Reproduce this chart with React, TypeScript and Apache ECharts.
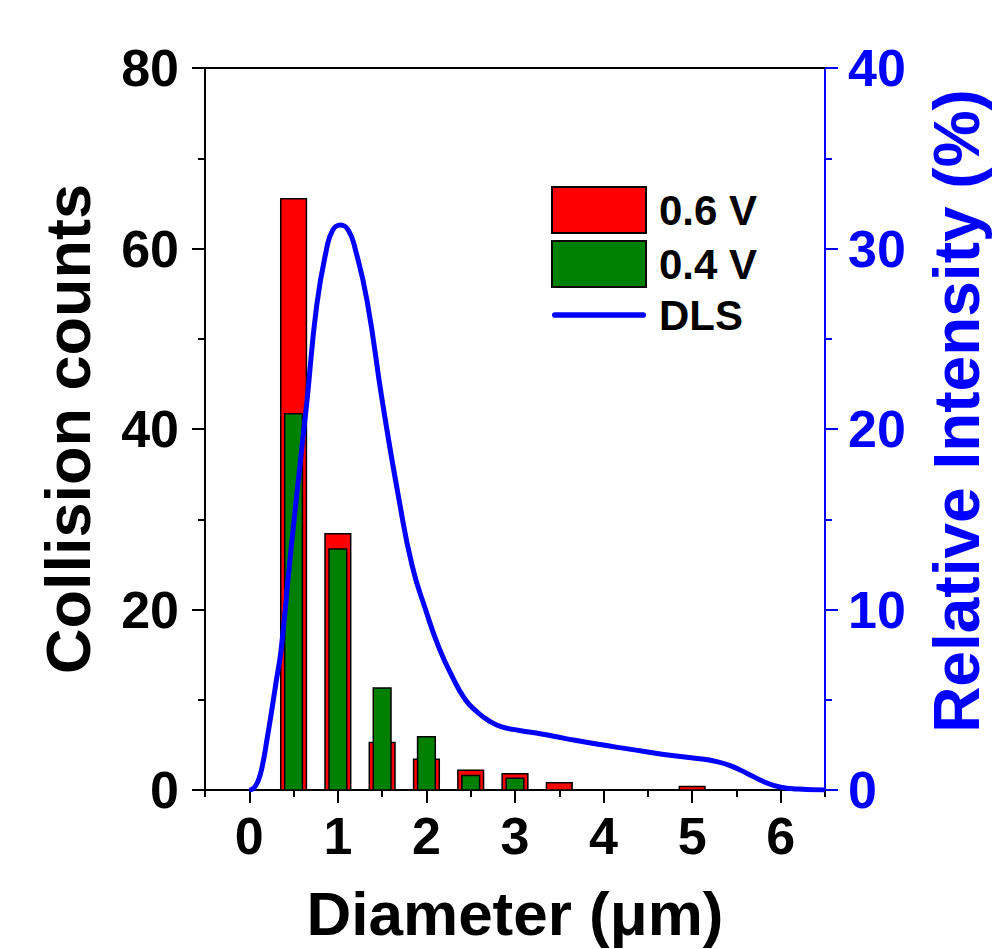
import React, { useEffect, useRef } from "react";
import * as echarts from "echarts";

const diameters = [0.5, 1, 1.5, 2, 2.5, 3, 3.5, 4, 4.5, 5];
const counts06V = [65.5, 28.4, 5.25, 3.4, 2.2, 1.8, 0.8, 0, 0, 0.4];
const counts04V = [41.7, 26.7, 11.3, 5.9, 1.6, 1.3, 0, 0, 0, 0];

const dlsX = [0, 0.05, 0.1, 0.15, 0.2, 0.25, 0.3, 0.36, 0.45, 0.55, 0.65, 0.76, 0.87, 0.94, 1.03, 1.12, 1.2, 1.33, 1.5, 1.69, 1.84, 1.99, 2.14, 2.29, 2.44, 2.59, 2.7, 2.85, 3.05, 3.3, 3.56, 3.94, 4.31, 4.68, 5.06, 5.28, 5.43, 5.62, 5.81, 6.0, 6.2, 6.5];
const dlsY = [0, 0.1, 0.5, 1.4, 2.8, 4.3, 5.9, 7.8, 12.3, 17.0, 21.5, 26.8, 29.9, 31.0, 31.3, 31.0, 29.9, 27.1, 21.6, 16.1, 12.4, 10.0, 7.9, 6.3, 5.0, 4.25, 3.85, 3.5, 3.3, 3.1, 2.86, 2.53, 2.25, 1.97, 1.75, 1.57, 1.35, 0.92, 0.46, 0.15, 0.05, 0];

const majorXTicks = [0, 1, 2, 3, 4, 5, 6];
const minorXTicks = [-0.5, 0.5, 1.5, 2.5, 3.5, 4.5, 5.5, 6.5];

const FONT = "Liberation Sans";
const GREEN = "#008000";
const RED = "#ff0000";
const BLUE = "#0000ff";

function barRender(width: number, color: string) {
  return (params: any, api: any) => {
    const x = api.value(0);
    const y = api.value(1);
    const top = api.coord([x, y]);
    const base = api.coord([x, 0]);
    const w = api.size([width, 0])[0];
    return {
      type: "rect",
      shape: { x: top[0] - w / 2, y: top[1], width: w, height: base[1] - top[1] },
      style: { fill: color, stroke: "#000", lineWidth: 1.5 },
    };
  };
}

export default function App() {
  const ref = useRef<HTMLDivElement>(null);
  useEffect(() => {
    if (!ref.current) return;
    const chart = echarts.init(ref.current, null, { renderer: "svg" });
    const red = diameters.map((d, i) => [d, counts06V[i]]).filter((p) => p[1] > 0);
    const green = diameters.map((d, i) => [d, counts04V[i]]).filter((p) => p[1] > 0);
    const dls = dlsX.map((x, i) => [x, dlsY[i]]);
    const labelStyle = { fontFamily: FONT, fontWeight: "bold" as const, fontSize: 52 };
    chart.setOption({
      animation: false,
      backgroundColor: "#fff",
      grid: { left: 205, right: 167, top: 68, bottom: 159, containLabel: false },
      legend: {
        left: 551,
        top: 186,
        orient: "vertical",
        itemWidth: 94,
        itemHeight: 46,
        itemGap: 6,
        padding: 0,
        textStyle: { fontFamily: FONT, fontWeight: "bold", fontSize: 42, color: "#000", padding: [0, 0, 0, 8] },
        data: [
          { name: "0.6 V", icon: "rect", itemStyle: { color: RED, borderColor: "#000", borderWidth: 2 } },
          { name: "0.4 V", icon: "rect", itemStyle: { color: GREEN, borderColor: "#000", borderWidth: 2 } },
          {
            name: "DLS",
            icon: "path://M3 0H97A3 3 0 0 1 97 6H3A3 3 0 0 1 3 0Z",
            itemStyle: { color: BLUE, borderWidth: 0 },
          },
        ],
      },
      xAxis: [
        {
          type: "value",
          position: "bottom",
          min: -0.5,
          max: 6.5,
          splitLine: { show: false },
          axisLine: { show: true, onZero: false, lineStyle: { color: "#000", width: 2 } },
          axisTick: { show: true, length: 13, lineStyle: { color: "#000", width: 2 }, customValues: majorXTicks },
          axisLabel: { ...labelStyle, color: "#000", margin: 20, customValues: majorXTicks },
          name: "Diameter (μm)",
          nameLocation: "middle",
          nameGap: 92,
          nameTextStyle: { fontFamily: FONT, fontWeight: "bold", fontSize: 62, color: "#000" },
        },
        {
          type: "value",
          position: "bottom",
          min: -0.5,
          max: 6.5,
          splitLine: { show: false },
          axisLine: { show: false },
          axisTick: { show: true, length: 7, lineStyle: { color: "#000", width: 2 }, customValues: minorXTicks },
          axisLabel: { show: false },
        },
        {
          type: "value",
          position: "top",
          min: -0.5,
          max: 6.5,
          splitLine: { show: false },
          axisLine: { show: true, onZero: false, lineStyle: { color: "#000", width: 2 } },
          axisTick: { show: false },
          axisLabel: { show: false },
        },
      ],
      yAxis: [
        {
          type: "value",
          position: "left",
          min: 0,
          max: 80,
          interval: 20,
          splitLine: { show: false },
          axisLine: { show: true, onZero: false, lineStyle: { color: "#000", width: 2 } },
          axisTick: { show: true, length: 13, lineStyle: { color: "#000", width: 2 } },
          minorTick: { show: true, splitNumber: 2, length: 7, lineStyle: { color: "#000", width: 2 } },
          minorSplitLine: { show: false },
          axisLabel: { ...labelStyle, color: "#000", margin: 26 },
          name: "Collision counts",
          nameLocation: "middle",
          nameRotate: 90,
          nameGap: 106,
          nameTextStyle: { fontFamily: FONT, fontWeight: "bold", fontSize: 63, color: "#000" },
        },
        {
          type: "value",
          position: "right",
          min: 0,
          max: 40,
          interval: 10,
          splitLine: { show: false },
          axisLine: { show: true, onZero: false, lineStyle: { color: BLUE, width: 2 } },
          axisTick: { show: true, length: 13, lineStyle: { color: BLUE, width: 2 } },
          minorTick: { show: true, splitNumber: 2, length: 7, lineStyle: { color: BLUE, width: 2 } },
          minorSplitLine: { show: false },
          axisLabel: { ...labelStyle, color: BLUE, margin: 23 },
          name: "Relative Intensity (%)",
          nameLocation: "middle",
          nameRotate: 90,
          nameGap: 100,
          nameTextStyle: { fontFamily: FONT, fontWeight: "bold", fontSize: 64, color: BLUE, padding: [0, 0, 0, 36] },
        },
      ],
      series: [
        {
          name: "0.6 V",
          type: "custom",
          xAxisIndex: 0,
          yAxisIndex: 0,
          itemStyle: { color: RED },
          renderItem: barRender(0.29, RED),
          data: red,
          z: 2,
        },
        {
          name: "0.4 V",
          type: "custom",
          xAxisIndex: 0,
          yAxisIndex: 0,
          itemStyle: { color: GREEN },
          renderItem: barRender(0.2, GREEN),
          data: green,
          z: 3,
        },
        {
          name: "DLS",
          type: "line",
          xAxisIndex: 0,
          yAxisIndex: 1,
          data: dls,
          smooth: 0.5,
          symbol: "none",
          showSymbol: false,
          lineStyle: { color: BLUE, width: 5 },
          itemStyle: { color: BLUE },
          z: 4,
        },
      ],
    });
    return () => chart.dispose();
  }, []);
  return <div ref={ref} style={{ position: "absolute", left: 0, top: 0, width: 997, height: 949 }} />;
}
